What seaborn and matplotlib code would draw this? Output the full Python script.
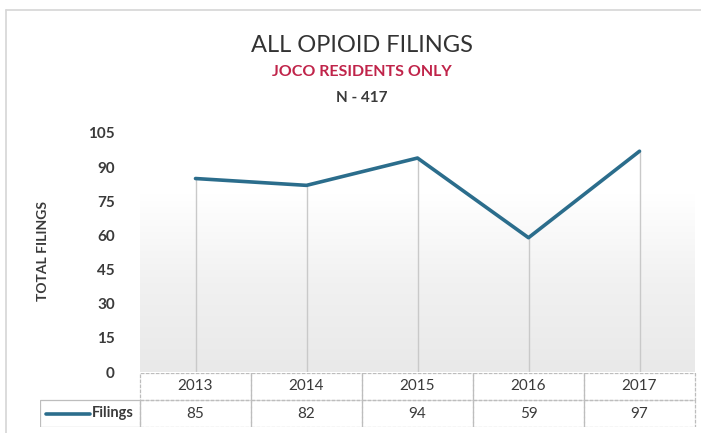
import numpy as np
import pandas as pd
import seaborn as sns
import matplotlib.pyplot as plt
from matplotlib.patches import Rectangle
from matplotlib.lines import Line2D
from matplotlib.colors import LinearSegmentedColormap

years = ["2013", "2014", "2015", "2016", "2017"]
filings = [85, 82, 94, 59, 97]
series_name = "Filings"
yticks = [0, 15, 30, 45, 60, 75, 90, 105]

title = "ALL OPIOID FILINGS"
subtitle = "JOCO RESIDENTS ONLY"
note = "N - 417"
ylabel = "TOTAL FILINGS"

LINE = "#2b6d8c"
GRID = "#c9c9c9"
TXT = "#3a3a3a"
W, H = 701, 433

sns.set_theme(style="white")
plt.rcParams["font.family"] = ["Lato", "DejaVu Sans"]

df = pd.DataFrame({"pos": np.arange(len(years)), "year": years, "filings": filings})

fig = plt.figure(figsize=(W / 100, H / 100), dpi=100)

def px(x0, y0, x1, y1):
    # pixel box (top-left origin) -> figure fraction rect
    return [x0 / W, 1 - y1 / H, (x1 - x0) / W, (y1 - y0) / H]

# chart border
fig.add_artist(Line2D([6 / W, 6 / W], [0, 1 - 10 / H], color="#d6d6d6", lw=1.2))
fig.add_artist(Line2D([6 / W, 1], [1 - 10 / H, 1 - 10 / H], color="#d6d6d6", lw=1.2))

ax = fig.add_axes(px(140, 133, 695, 372))
ax.set_xlim(-0.5, len(years) - 0.5)
ax.set_ylim(0, 105)

# faint grey wash in lower plot area (scan bleed)
wash = LinearSegmentedColormap.from_list("wash", ["#ffffff", "#f1f1f1", "#e9e9e9"])
grad = np.linspace(0, 1, 200).reshape(-1, 1)
ax.imshow(grad, extent=(-0.5, len(years) - 0.5, 0, 78), origin="upper",
          cmap=wash, aspect="auto", zorder=0)

ax.vlines(df["pos"], 0, df["filings"], color=GRID, lw=1, zorder=1)
sns.lineplot(data=df, x="pos", y="filings", ax=ax, color=LINE, lw=2.6, zorder=3)

ax.set_yticks(yticks)
ax.set_yticklabels([str(v) for v in yticks], fontsize=11, color=TXT, fontweight="bold")
ax.tick_params(axis="y", length=0, pad=18)
ax.set_xticks([])
ax.set_xlabel("")
ax.set_ylabel("")
for s in ax.spines.values():
    s.set_visible(False)

fig.text(43 / W, 1 - 251 / H, ylabel, rotation=90, ha="center", va="center",
         fontsize=10, fontweight="bold", color=TXT)

fig.text(362 / W, 1 - 46 / H, title, ha="center", va="center", fontsize=17, color="#333333")
fig.text(362 / W, 1 - 72 / H, subtitle, ha="center", va="center", fontsize=11.5,
         fontweight="bold", color="#c0244a")
fig.text(362 / W, 1 - 98 / H, note, ha="center", va="center", fontsize=11,
         fontweight="bold", color=TXT)

# data table under the plot
cw = (695 - 140) / len(years)
left = -0.5 - (140 - 40) / cw
tab = fig.add_axes(px(40, 373, 697, 427))
tab.set_xlim(left, -0.5 + (697 - 140) / cw)
tab.set_ylim(0, 2)
tab.axis("off")
edge = "#bdbdbd"
for i, yr in enumerate(years):
    tab.add_patch(Rectangle((i - 0.5, 1), 1, 1, fill=False, ec=edge, lw=0.9, ls=(0, (3, 1))))
    tab.add_patch(Rectangle((i - 0.5, 0), 1, 1, fill=False, ec=edge, lw=0.9, ls=(0, (3, 1))))
    tab.text(i, 1.5, yr, ha="center", va="center", fontsize=11, color=TXT)
    tab.text(i, 0.5, str(filings[i]), ha="center", va="center", fontsize=11, color=TXT)
tab.add_patch(Rectangle((left, 0), -0.5 - left, 1, fill=False, ec=edge, lw=0.9))
tab.plot([left + 0.05, left + 0.45], [0.5, 0.5], color=LINE, lw=2.6)
tab.text(left + 0.47, 0.5, series_name, ha="left", va="center", fontsize=10.5,
         fontweight="bold", color=TXT)

fig.savefig("out.png", dpi=100)
